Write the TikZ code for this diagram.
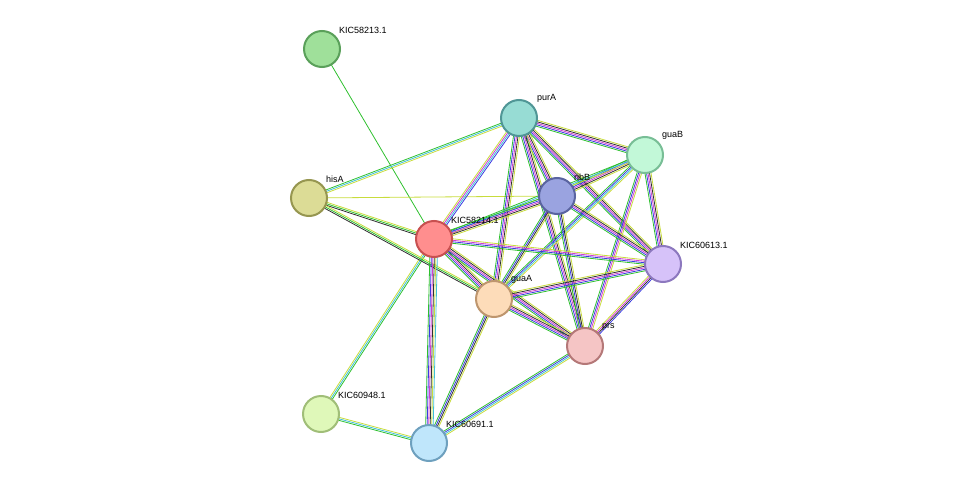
\documentclass[tikz,border=0pt]{standalone}
\usepackage{fontspec}
\setmainfont{Liberation Sans}
\usetikzlibrary{calc,backgrounds}
\definecolor{sgreen}{HTML}{2EC02E}
\definecolor{sblue}{HTML}{3A3AE0}
\definecolor{sblack}{HTML}{303030}
\definecolor{smag}{HTML}{D23CD2}
\definecolor{syel}{HTML}{C8DC3C}
\definecolor{scyan}{HTML}{40C0D8}
\tikzset{
  prot/.style={circle, minimum size=36pt, line width=2pt, inner sep=0pt},
  lab/.style={font=\fontsize{9pt}{10pt}\selectfont, anchor=south west, inner sep=1pt},
}
% multi-coloured evidence link
\newcommand\link[4]{%
  \foreach \c [count=\i] in {#4}{%
    \pgfmathsetmacro\off{(\i-(#3+1)/2)*1.5}%
    \draw[\c, line width=0.8pt] ($(#1)!\off pt!90:(#2)$) -- ($(#2)!\off pt!-90:(#1)$);
  }}
\begin{document}
\begin{tikzpicture}[x=1pt,y=-1pt]
  \useasboundingbox (0,0) rectangle (976,489);
  % proteins
  \node[prot, fill={rgb,255:red,159;green,224;blue,154}, draw={rgb,255:red,90;green,160;blue,90}] (k213) at (322,49) {};
  \node[prot, fill={rgb,255:red,151;green,220;blue,212}, draw={rgb,255:red,80;green,150;blue,150}] (purA) at (519,118) {};
  \node[prot, fill={rgb,255:red,194;green,248;blue,216}, draw={rgb,255:red,120;green,190;blue,150}] (guaB) at (645,155) {};
  \node[prot, fill={rgb,255:red,154;green,163;blue,224}, draw={rgb,255:red,90;green,100;blue,160}] (ribB) at (557,196) {};
  \node[prot, fill={rgb,255:red,220;green,220;blue,150}, draw={rgb,255:red,150;green,150;blue,80}] (hisA) at (309,198) {};
  \node[prot, fill={rgb,255:red,255;green,142;blue,142}, draw={rgb,255:red,200;green,80;blue,80}] (k214) at (434,239) {};
  \node[prot, fill={rgb,255:red,214;green,194;blue,249}, draw={rgb,255:red,140;green,120;blue,190}] (k613) at (663,264) {};
  \node[prot, fill={rgb,255:red,253;green,220;blue,185}, draw={rgb,255:red,190;green,150;blue,110}] (guaA) at (494,299) {};
  \node[prot, fill={rgb,255:red,245;green,197;blue,197}, draw={rgb,255:red,180;green,120;blue,120}] (prs) at (585,346) {};
  \node[prot, fill={rgb,255:red,223;green,248;blue,185}, draw={rgb,255:red,160;green,190;blue,120}] (k948) at (321,414) {};
  \node[prot, fill={rgb,255:red,191;green,230;blue,251}, draw={rgb,255:red,110;green,160;blue,190}] (k691) at (429,443) {};
  % labels
  \node[lab] at ($(k213)+(16,-14)$) {KIC58213.1};
  \node[lab] at ($(purA)+(17,-14)$) {purA};
  \node[lab] at ($(guaB)+(16,-14)$) {guaB};
  \node[lab] at ($(ribB)+(16,-14)$) {ribB};
  \node[lab] at ($(hisA)+(16,-14)$) {hisA};
  \node[lab] at ($(k214)+(16,-14)$) {KIC58214.1};
  \node[lab] at ($(k613)+(16,-14)$) {KIC60613.1};
  \node[lab] at ($(guaA)+(16,-14)$) {guaA};
  \node[lab] at ($(prs)+(16,-14)$) {prs};
  \node[lab] at ($(k948)+(16,-14)$) {KIC60948.1};
  \node[lab] at ($(k691)+(16,-14)$) {KIC60691.1};
  % links
  \begin{scope}[on background layer]
    \link{k213}{k214}{1}{sgreen}
    \link{hisA}{ribB}{1}{syel}
    \link{purA}{hisA}{3}{sgreen,scyan,syel}
    \link{purA}{k214}{4}{syel,smag,scyan,sblue}
    \link{k948}{k214}{3}{sgreen,scyan,syel}
    \link{k948}{k691}{3}{sgreen,scyan,syel}
    \link{hisA}{k214}{3}{sblack,sgreen,syel}
    \link{hisA}{guaA}{3}{sblack,sgreen,syel}
    \link{purA}{guaB}{5}{sgreen,sblue,smag,sblack,syel}
    \link{purA}{ribB}{5}{sgreen,sblue,smag,sblack,syel}
    \link{purA}{k613}{5}{sgreen,sblue,smag,sblack,syel}
    \link{purA}{guaA}{5}{sgreen,sblue,smag,sblack,syel}
    \link{purA}{prs}{5}{sgreen,sblue,smag,sblack,syel}
    \link{guaB}{ribB}{5}{sgreen,sblue,smag,sblack,syel}
    \link{guaB}{k214}{3}{sgreen,scyan,syel}
    \link{guaB}{guaA}{4}{sgreen,sblue,scyan,syel}
    \link{guaB}{k613}{5}{sgreen,sblue,smag,sblack,syel}
    \link{guaB}{prs}{4}{sgreen,sblue,smag,syel}
    \link{ribB}{k214}{5}{sgreen,sblue,smag,sblack,syel}
    \link{ribB}{guaA}{4}{sgreen,sblue,sblack,syel}
    \link{ribB}{k613}{5}{sgreen,sblue,smag,sblack,syel}
    \link{ribB}{prs}{4}{sgreen,sblue,sblack,syel}
    \link{k214}{k613}{4}{sgreen,sblue,smag,syel}
    \link{k214}{guaA}{5}{sgreen,sblue,smag,sblack,syel}
    \link{k214}{prs}{5}{sgreen,sblue,smag,sblack,syel}
    \link{k214}{k691}{6}{sgreen,sblue,smag,sblack,syel,scyan}
    \link{guaA}{k613}{5}{sgreen,sblue,smag,sblack,syel}
    \link{guaA}{prs}{5}{sgreen,sblue,smag,sblack,syel}
    \link{guaA}{k691}{4}{sgreen,sblue,sblack,syel}
    \link{prs}{k613}{4}{sblue,sblack,smag,syel}
    \link{prs}{k691}{4}{sgreen,sblue,scyan,syel}
  \end{scope}
\end{tikzpicture}
\end{document}
